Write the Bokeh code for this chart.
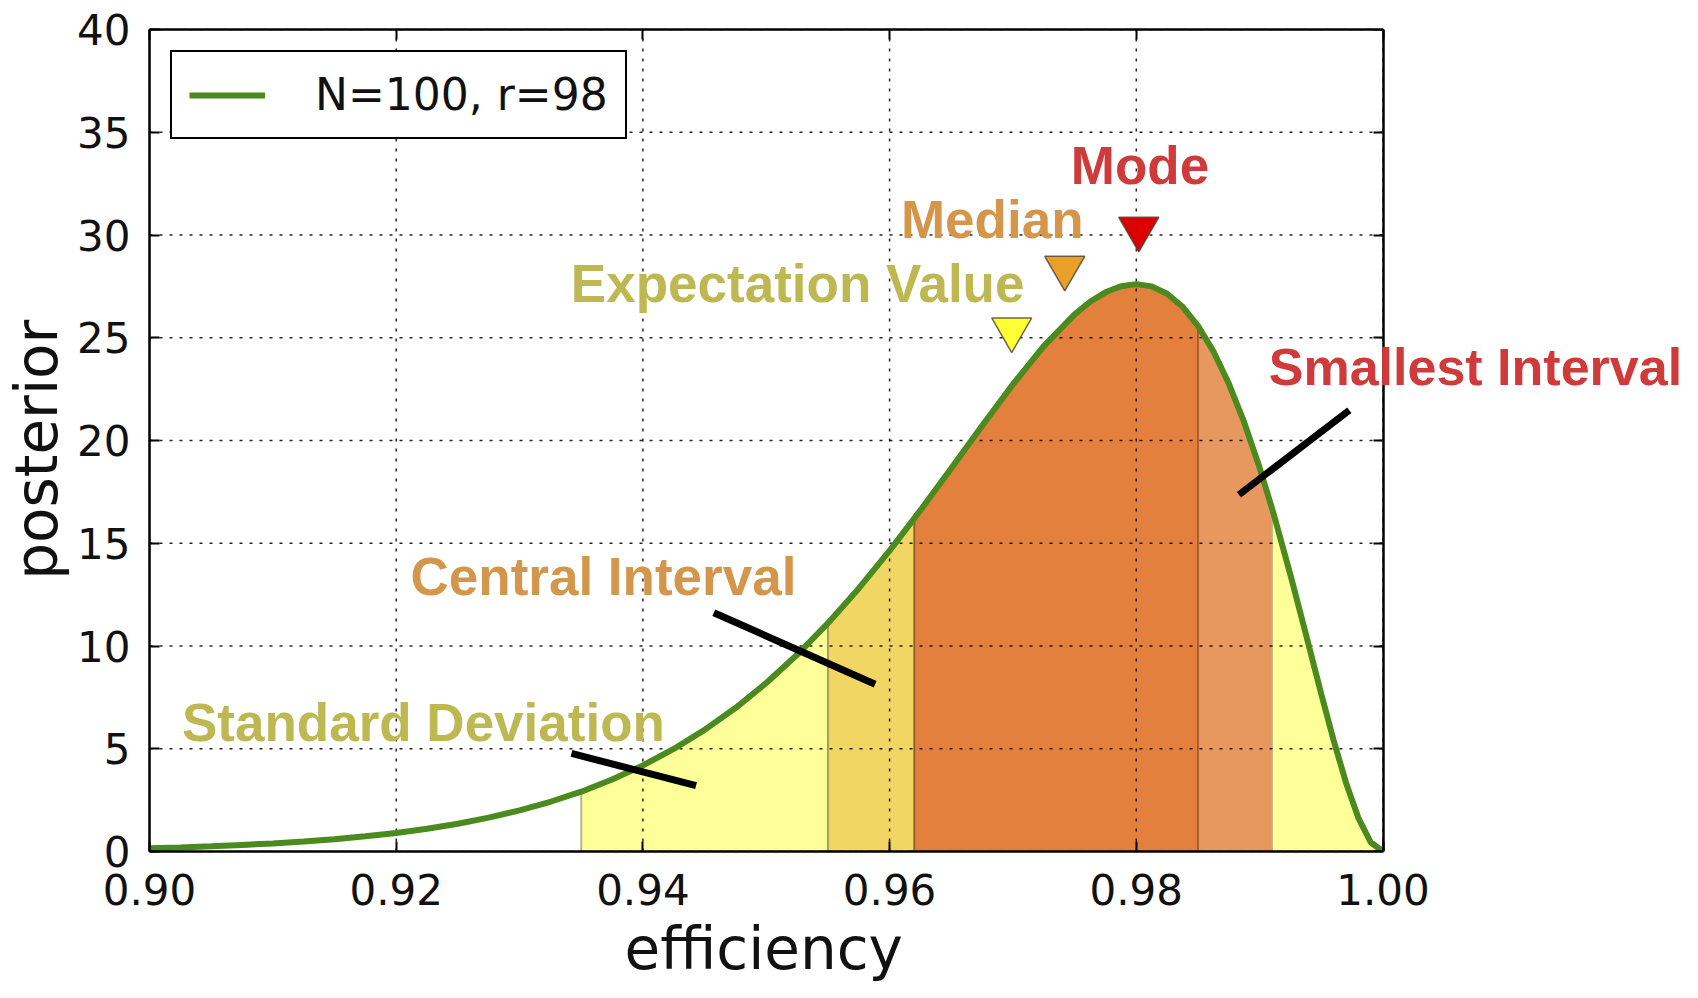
from bokeh.plotting import figure
from bokeh.models import (LinearAxis, Label, Legend, LegendItem, FixedTicker,
                          Range1d, NumeralTickFormatter, Title)
from bokeh.embed import file_html
from bokeh.resources import INLINE

# ---------------- data ----------------
efficiency = [0.900, 0.9025, 0.905, 0.9075, 0.910, 0.9125, 0.915, 0.9175, 0.920,
              0.9225, 0.925, 0.9275, 0.930, 0.9325, 0.935, 0.9375, 0.940, 0.9425,
              0.945, 0.9475, 0.950, 0.9525, 0.955, 0.9575, 0.960, 0.962, 0.9625,
              0.965, 0.9675, 0.970, 0.9725, 0.975, 0.97625, 0.9775, 0.97875, 0.980,
              0.98125, 0.9825, 0.98375, 0.985, 0.98625, 0.9875, 0.98875, 0.990,
              0.991, 0.99125, 0.9925, 0.99375, 0.995, 0.996, 0.997, 0.998, 0.999,
              1.000]
posterior = [0.16, 0.20, 0.25, 0.32, 0.39, 0.49, 0.60, 0.74, 0.90,
             1.11, 1.35, 1.65, 2.00, 2.42, 2.91, 3.50, 4.19, 4.99,
             5.92, 6.98, 8.20, 9.57, 11.11, 12.80, 14.64, 16.21, 16.61,
             18.65, 20.72, 22.74, 24.59, 26.14, 26.75, 27.21, 27.51, 27.61,
             27.50, 27.14, 26.51, 25.58, 24.34, 22.77, 20.88, 18.67,
             16.70, 16.18, 13.45, 10.57, 7.65, 5.40, 3.35, 1.64, 0.45,
             0.00]

std_band = [0.935, 1.000]
central_interval = [0.955, 0.985]
smallest_interval = [0.962, 0.991]

marker_names = ["Expectation Value", "Median", "Mode"]
marker_x = [0.9699, 0.9742, 0.9802]
marker_y = [25.4, 28.4, 30.3]

x_ticks = [0.90, 0.92, 0.94, 0.96, 0.98, 1.00]
y_ticks = [0, 5, 10, 15, 20, 25, 30, 35, 40]

ann_text = ["Mode", "Median", "Expectation Value", "Smallest Interval",
            "Central Interval", "Standard Deviation"]
ann_x = [0.98030, 0.96092, 0.93416, 0.99074, 0.92116, 0.90263]
ann_y = [33.40, 30.77, 27.66, 23.57, 13.36, 6.29]

ptr_x0 = [0.93421, 0.94575, 0.99727]
ptr_y0 = [4.77, 11.62, 21.47]
ptr_x1 = [0.94431, 0.95883, 0.98832]
ptr_y1 = [3.21, 8.14, 17.36]

# ---------------- styles ----------------
GREEN = "#4A8A1E"
C_STD = "#FFFF99"
C_CENTRAL = "#F2D664"
C_SMALL = "#E6985F"
C_BOTH = "#E4803D"
TXT_OLIVE = "#BDB852"
TXT_TAN = "#D3964B"
TXT_RED = "#CF3A3A"
MARK_COLORS = ["#FFFF33", "#E8A02A", "#DD0000"]
TXT_COLORS = [TXT_RED, TXT_TAN, TXT_OLIVE, TXT_RED, TXT_TAN, TXT_OLIVE]
TXT_SIZES = ["53px", "53px", "53px", "52px", "53px", "53px"]
TICK_FONT = "DejaVu Sans"

X0, X1 = x_ticks[0], x_ticks[-1]
Y0, Y1 = y_ticks[0], y_ticks[-1]
FRAME_W = 1536
PX_PER_UNIT = 12335.0
x_end = X0 + FRAME_W / PX_PER_UNIT  # white room right of 1.00 for the label

p = figure(width=1682, height=982, frame_width=FRAME_W, frame_height=822,
           output_backend="svg", toolbar_location=None,
           x_range=Range1d(X0, x_end), y_range=Range1d(Y0, Y1),
           min_border_left=142, min_border_top=29, min_border_right=0,
           min_border_bottom=131)
p.background_fill_color = "white"
p.border_fill_color = "white"
p.outline_line_color = None
p.xgrid.visible = False
p.ygrid.visible = False


def sub(a, b):
    xs = [x for x in efficiency if a - 1e-9 <= x <= b + 1e-9]
    ys = [y for x, y in zip(efficiency, posterior) if a - 1e-9 <= x <= b + 1e-9]
    return xs, ys


def at(x0):
    i = min(range(len(efficiency)), key=lambda k: abs(efficiency[k] - x0))
    return posterior[i]


for (a, b), col in [((std_band[0], std_band[1]), C_STD),
                    ((central_interval[0], central_interval[1]), C_CENTRAL),
                    ((smallest_interval[0], smallest_interval[1]), C_SMALL),
                    ((max(central_interval[0], smallest_interval[0]),
                      min(central_interval[1], smallest_interval[1])), C_BOTH)]:
    xs, ys = sub(a, b)
    p.varea(x=xs, y1=[0] * len(xs), y2=ys, fill_color=col)

edge_x = [std_band[0], central_interval[0], smallest_interval[0],
          central_interval[1], smallest_interval[1]]
edge_cols = ["#A8A880", "#9A8E60", "#7E5A30", "#A0522D", "#B8AE80"]
p.segment(x0=edge_x, y0=[0] * 5, x1=edge_x, y1=[at(x) for x in edge_x],
          line_color=edge_cols, line_width=2, line_alpha=0.85)

# dotted grid, limited to the 0.90-1.00 box, drawn above the fills
GRID = dict(line_color="black", line_alpha=0.85, line_dash="3 7", line_width=1.5)
p.segment(x0=x_ticks, y0=[Y0] * len(x_ticks), x1=x_ticks, y1=[Y1] * len(x_ticks),
          **GRID)
p.segment(x0=[X0] * len(y_ticks), y0=y_ticks, x1=[X1] * len(y_ticks), y1=y_ticks,
          **GRID)

curve = p.line(efficiency, posterior, line_color=GREEN, line_width=6)

p.segment(x0=ptr_x0, y0=ptr_y0, x1=ptr_x1, y1=ptr_y1, line_color="black",
          line_width=7)

p.scatter(marker_x, marker_y, marker="inverted_triangle", size=40,
          fill_color=MARK_COLORS, line_color="#4D4030", line_width=1.5,
          line_alpha=0.8)


def style_axis(ax, labels=True):
    ax.axis_line_color = "black"
    ax.axis_line_width = 2.5
    ax.major_tick_in = 10
    ax.major_tick_out = 0
    ax.major_tick_line_width = 2
    ax.major_tick_line_color = "black"
    ax.minor_tick_line_color = None
    ax.major_label_text_font = TICK_FONT
    ax.major_label_text_color = "#111111"
    if labels:
        ax.major_label_text_font_size = "42px"
    else:
        ax.major_label_text_font_size = "0px"
        ax.major_label_standoff = 0


xa = p.xaxis[0]
ya = p.yaxis[0]
xa.ticker = FixedTicker(ticks=x_ticks)
ya.ticker = FixedTicker(ticks=y_ticks)
xa.bounds = (X0, X1)
xa.formatter = NumeralTickFormatter(format="0.00")
style_axis(xa)
style_axis(ya)
xa.major_label_standoff = 22
ya.major_label_standoff = 19
ya.axis_label = "posterior\u00a0"
ya.axis_label_text_font = TICK_FONT
ya.axis_label_text_font_size = "58px"
ya.axis_label_text_font_style = "normal"
ya.axis_label_text_color = "#111111"
ya.axis_label_standoff = 3

top = LinearAxis(ticker=FixedTicker(ticks=x_ticks), bounds=(X0, X1))
style_axis(top, labels=False)
p.add_layout(top, "above")

right = LinearAxis(ticker=FixedTicker(ticks=y_ticks), fixed_location=X1)
style_axis(right, labels=False)
p.add_layout(right, "right")

# x-axis label, centred under the 0.90-1.00 box (the frame is wider)
xlabel = Title(text="efficiency", align="left", offset=475,
               text_font=TICK_FONT, text_font_size="58px",
               text_font_style="normal", text_color="#111111", standoff=10)
p.add_layout(xlabel, "below")

legend = Legend(items=[LegendItem(label="N=100, r=98", renderers=[curve])],
                location="top_left")
legend.border_line_color = "black"
legend.border_line_alpha = 1.0
legend.border_line_width = 2.5
legend.background_fill_color = "white"
legend.background_fill_alpha = 1.0
legend.label_text_font = TICK_FONT
legend.label_text_font_size = "44px"
legend.label_text_color = "#111111"
legend.glyph_width = 76
legend.glyph_height = 40
legend.padding = 17
legend.margin = 21
legend.label_standoff = 50
legend.spacing = 0
p.add_layout(legend)

for t, x, y, c, s in zip(ann_text, ann_x, ann_y, TXT_COLORS, TXT_SIZES):
    p.add_layout(Label(x=x, y=y, text=t, text_color=c,
                       text_font="Liberation Sans", text_font_style="bold",
                       text_font_size=s, text_baseline="alphabetic",
                       text_align="center" if t == "Mode" else "left"))

open("out.html", "w").write(file_html(p, INLINE))
